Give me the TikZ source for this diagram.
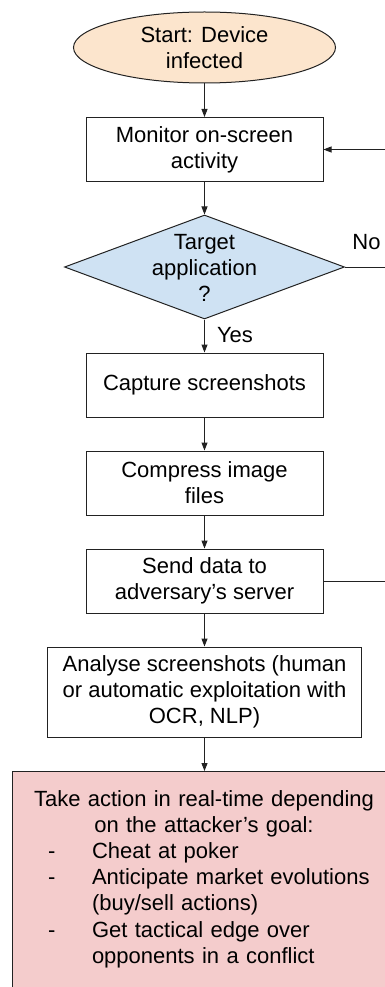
\documentclass[tikz,border=0pt]{standalone}
\usepackage{fontspec}
\setmainfont{Liberation Sans}
\usetikzlibrary{shapes.geometric,arrows.meta}
\definecolor{startfill}{HTML}{FCE5CD}
\definecolor{decfill}{HTML}{CFE2F3}
\definecolor{actfill}{HTML}{F4CCCC}
\definecolor{edge}{HTML}{222222}
\tikzset{
  base/.style={draw=edge, line width=1pt},
  txt/.style={font=\fontsize{22}{26}\selectfont, inner sep=0pt, align=center},
  procbox/.style={base, txt, rectangle, minimum height=64pt, minimum width=237pt},
  flow/.style={draw=edge, line width=1pt, -{Triangle[length=8pt,width=6pt]}},
  plain/.style={draw=edge, line width=1pt},
}
\begin{document}
\begin{tikzpicture}[x=1pt,y=-1pt]
\useasboundingbox (0,0) rectangle (385,987);
\clip (0,0) rectangle (385,987);

% start terminal
\node[base, ellipse, fill=startfill, minimum width=262pt, minimum height=71pt, inner sep=0pt] (start) at (204.5,47.5) {};
\node[txt] (starttxt) at (start) {Start: Device\\infected};

% monitoring step
\node[procbox] (mon) at (204.5,149.5) {Monitor on-screen\\activity};

% decision
\node[base, diamond, fill=decfill, minimum width=280pt, minimum height=104pt, inner sep=0pt] (dec) at (204.5,267) {};
\node[txt] (dectxt) at (204.5,268) {Target\\application\\?};

% processing chain
\node[procbox] (cap) at (204.5,385) {Capture screenshots};
\node[procbox] (cmp) at (204.5,483) {Compress image\\files};
\node[procbox] (snd) at (204.5,581) {Send data to\\adversary’s server};
\node[procbox, minimum width=314pt, minimum height=90pt] (ana) at (204.5,692)
  {Analyse screenshots (human\\or automatic exploitation with\\OCR, NLP)};

% final action box
\node[base, rectangle, fill=actfill, minimum width=384pt, minimum height=240pt, inner sep=0pt, anchor=north] (act) at (204.5,771) {};
\node[font=\fontsize{22}{26.2}\selectfont, inner sep=0pt, text width=360pt, anchor=north] (acttxt) at (204,790) {%
  \parindent=0pt
  {\centering Take action in real-time depending\\ on the attacker’s goal:\par}
  \raggedright
  \hspace*{24pt}\makebox[44pt][l]{-}Cheat at poker\par
  \hspace*{24pt}\makebox[44pt][l]{-}Anticipate market evolutions\par
  \hspace*{68pt}(buy/sell actions)\par
  \hspace*{24pt}\makebox[44pt][l]{-}Get tactical edge over\par
  \hspace*{68pt}opponents in a conflict\par};

% loose ends at the right margin
\coordinate (monin) at (386,149.5);
\coordinate (noout) at (386,267);
\coordinate (sndout) at (386,581);

% connectors
\draw[flow] (start) -- (mon);
\draw[flow] (mon) -- (dec);
\draw[flow] (dec) -- (cap);
\draw[flow] (cap) -- (cmp);
\draw[flow] (cmp) -- (snd);
\draw[flow] (snd) -- (ana);
\draw[flow] (ana.south) -- (act.north);
\draw[flow] (monin) -- (mon.east);
\draw[plain] (dec.east) -- (noout);
\draw[plain] (snd.east) -- (sndout);

% branch labels
\node[txt] (yes) at (235,335) {Yes};
\node[txt] (no) at (366.5,242) {No};
\end{tikzpicture}
\end{document}
